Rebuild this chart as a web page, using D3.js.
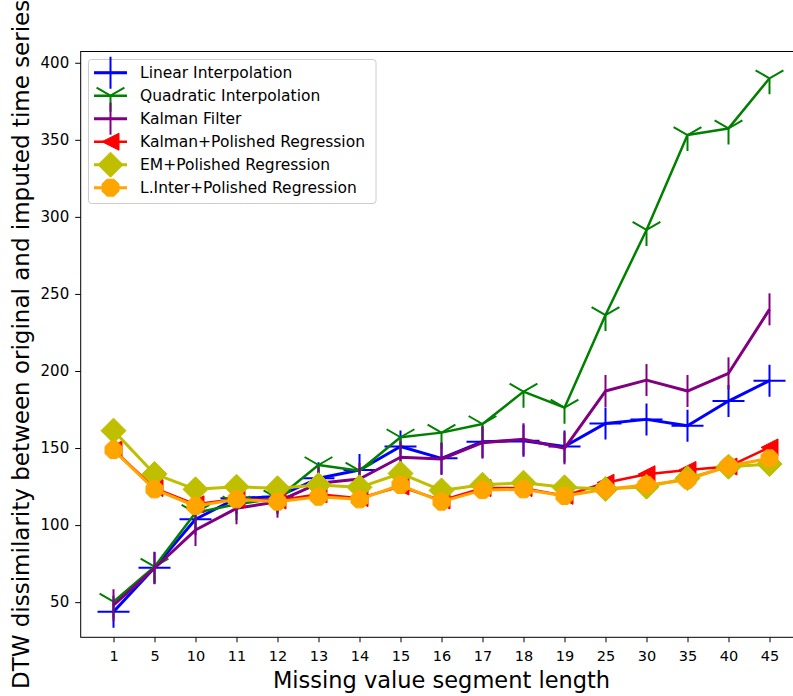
<!DOCTYPE html>
<html>
<head>
<meta charset="utf-8">
<script src="https://cdn.jsdelivr.net/npm/d3@7"></script>
<style>
  body { margin: 0; background: #fff; }
  text { font-family: "DejaVu Sans", sans-serif; fill: #000; }
</style>
</head>
<body>
<div id="vis"><svg></svg></div>
<script>
// segment lengths on the x axis (categorical)
const categories = ["1","5","10","11","12","13","14","15","16","17","18","19","25","30","35","40","45"];
const yTicks = [50, 100, 150, 200, 250, 300, 350, 400];

const linearInterp = [43.8, 72.4, 103.8, 117.4, 118.4, 130.4, 135.8, 151.0, 143.3, 154.1, 154.8, 151.0, 166.0, 168.6, 164.5, 180.5, 193.7];
const quadraticInterp = [50.3, 73.0, 108.0, 113.5, 117.4, 139.0, 135.3, 157.0, 160.0, 165.6, 186.6, 176.2, 236.3, 291.5, 353.1, 357.4, 389.9];
const kalmanFilter = [48.0, 72.0, 96.8, 110.9, 115.2, 127.1, 129.9, 144.0, 142.9, 153.5, 155.7, 149.8, 187.0, 194.1, 187.0, 198.5, 240.0];
const kalmanPolished = [149.0, 124.0, 113.5, 117.0, 116.0, 120.0, 117.5, 125.0, 116.0, 124.0, 124.0, 119.0, 127.5, 133.0, 135.8, 138.0, 150.4];
const emPolished = [161.3, 133.2, 123.2, 124.9, 123.9, 126.0, 124.5, 133.5, 122.5, 126.2, 127.5, 124.5, 123.5, 124.9, 130.4, 137.9, 139.6];
const linterPolished = [148.7, 123.2, 112.4, 116.7, 115.2, 118.4, 116.7, 126.0, 115.2, 122.7, 123.2, 118.9, 123.2, 126.0, 129.3, 138.4, 143.3];

const seriesNames = ["Linear Interpolation", "Quadratic Interpolation", "Kalman Filter",
  "Kalman+Polished Regression", "EM+Polished Regression", "L.Inter+Polished Regression"];

var W = 793, H = 696;
var plot = {left: 80.7, right: 802.3, top: 51.5, bottom: 637.3};

var svg = d3.select("#vis").select("svg")
  .attr("width", W)
  .attr("height", H);

let x = d3.scaleLinear()
  .domain([-0.8, categories.length - 1 + 0.8])
  .range([plot.left, plot.right]);

let y = d3.scaleLinear()
  .domain([27.2, 407.3])
  .range([plot.bottom, plot.top]);

// marker path generators (centered at 0,0)
const markers = {
  plus: "M-16,0L16,0M0,-16L0,16",
  tri: "M0,0L0,16M0,0L13.9,-8M0,0L-13.9,-8",
  vline: "M0,-16L0,16",
  triLeft: "M-8.5,0L8.5,-8.5L8.5,8.5Z",
  diamond: "M0,-12.5L12.5,0L0,12.5L-12.5,0Z",
  octagon: d3.range(8).map((k, i) => {
    let a = Math.PI / 8 + k * Math.PI / 4;
    return (i ? "L" : "M") + (9.2 * Math.cos(a)).toFixed(2) + "," + (9.2 * Math.sin(a)).toFixed(2);
  }).join("") + "Z"
};

const series = [
  {name: seriesNames[0], values: linearInterp, color: "#0000ff", lw: 3, marker: "plus", filled: false},
  {name: seriesNames[1], values: quadraticInterp, color: "#008000", lw: 2.5, marker: "tri", filled: false},
  {name: seriesNames[2], values: kalmanFilter, color: "#800080", lw: 3, marker: "vline", filled: false},
  {name: seriesNames[3], values: kalmanPolished, color: "#ff0000", lw: 2.5, marker: "triLeft", filled: true},
  {name: seriesNames[4], values: emPolished, color: "#bfbf00", lw: 3, marker: "diamond", filled: true},
  {name: seriesNames[5], values: linterPolished, color: "#ffa500", lw: 3, marker: "octagon", filled: true}
];

// axes
let xAxis = d3.axisBottom(x)
  .tickValues(d3.range(categories.length))
  .tickFormat(i => categories[i])
  .tickSize(5)
  .tickPadding(5);

let yAxis = d3.axisLeft(y)
  .tickValues(yTicks)
  .tickSize(5.5)
  .tickPadding(6);

let gx = svg.append("g")
  .attr("transform", `translate(0,${plot.bottom})`)
  .call(xAxis);
gx.select(".domain").remove();
gx.selectAll(".tick line").attr("stroke", "#000").attr("stroke-width", 1);
gx.selectAll(".tick text")
  .style("font-family", "DejaVu Sans")
  .style("font-size", "14.5px")
  .attr("dy", "0.92em");

let gy = svg.append("g")
  .attr("transform", `translate(${plot.left},0)`)
  .call(yAxis);
gy.select(".domain").remove();
gy.selectAll(".tick line").attr("stroke", "#000").attr("stroke-width", 1);
gy.selectAll(".tick text")
  .style("font-family", "DejaVu Sans")
  .style("font-size", "15px");

// lines + markers, same order matplotlib draws them
let line = d3.line()
  .x((d, i) => x(i))
  .y(d => y(d));

series.forEach(s => {
  let g = svg.append("g").attr("class", "series");
  g.append("path")
    .datum(s.values)
    .attr("d", line)
    .attr("fill", "none")
    .attr("stroke", s.color)
    .attr("stroke-width", s.lw)
    .attr("stroke-linejoin", "round");
  g.selectAll("path.mk")
    .data(s.values)
    .enter()
    .append("path")
    .attr("class", "mk")
    .attr("transform", (d, i) => `translate(${x(i)},${y(d)})`)
    .attr("d", markers[s.marker])
    .attr("fill", s.filled ? s.color : "none")
    .attr("stroke", s.color)
    .attr("stroke-width", s.filled ? 1 : 2);
});

// spines (right one falls outside the picture)
svg.append("rect")
  .attr("x", plot.left)
  .attr("y", plot.top)
  .attr("width", plot.right - plot.left)
  .attr("height", plot.bottom - plot.top)
  .attr("fill", "none")
  .attr("stroke", "#000")
  .attr("stroke-width", 1);

// legend
let leg = svg.append("g").attr("transform", "translate(88.5,59.5)");
leg.append("rect")
  .attr("width", 287.5)
  .attr("height", 144)
  .attr("rx", 3)
  .attr("fill", "#fff")
  .attr("fill-opacity", 0.8)
  .attr("stroke", "#ccc")
  .attr("stroke-width", 1);

series.forEach((s, i) => {
  let row = leg.append("g").attr("transform", `translate(0,${13.2 + i * 23})`);
  row.append("line")
    .attr("x1", 5.5).attr("x2", 38.5)
    .attr("stroke", s.color)
    .attr("stroke-width", s.lw);
  row.append("path")
    .attr("transform", "translate(22,0)")
    .attr("d", markers[s.marker])
    .attr("fill", s.filled ? s.color : "none")
    .attr("stroke", s.color)
    .attr("stroke-width", s.filled ? 1 : 2);
  row.append("text")
    .attr("x", 51.5)
    .attr("dy", "0.36em")
    .style("font-size", "15.5px")
    .text(s.name);
});

// axis titles
svg.append("text")
  .attr("x", (plot.left + plot.right) / 2)
  .attr("y", 687.5)
  .style("text-anchor", "middle")
  .style("font-size", "22.5px")
  .text("Missing value segment length");

svg.append("text")
  .attr("transform", `translate(29,${(plot.top + plot.bottom) / 2}) rotate(-90)`)
  .style("text-anchor", "middle")
  .style("font-size", "23px")
  .text("DTW dissimilarity between original and imputed time series");
</script>
</body>
</html>
